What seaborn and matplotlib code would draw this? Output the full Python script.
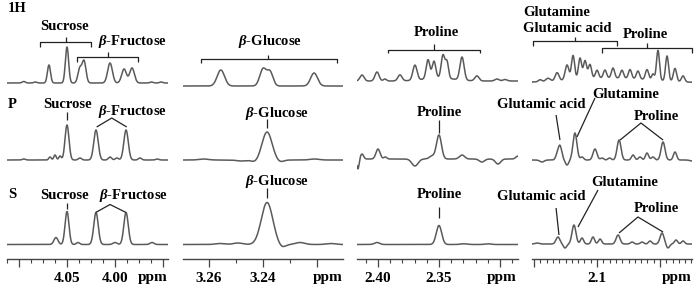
import numpy as np
import pandas as pd
import matplotlib
matplotlib.use("Agg")
import matplotlib.pyplot as plt
import seaborn as sns
from matplotlib.ticker import FixedLocator, FixedFormatter, MultipleLocator

# peak tables: (centre ppm, height px, fwhm ppm)
# panel 1 - sucrose / beta-fructose
suc_1h = [(4.095, 1.5, .004), (4.083, 1.0, .004), (4.0688, 18, .0038), (4.0500, 36, .0040),
          (4.0368, 14, .0045), (4.0323, 22, .0048), (4.0052, 20, .0058), (3.9906, 14, .0058),
          (3.9823, 15, .0058), (3.962, 1.0, .004), (3.952, 1.0, .004)]
suc_p = [(4.095, 1, .004), (4.0677, 3, .003), (4.0625, 5, .003), (4.0573, 4, .003),
         (4.0500, 35, .0048), (4.0365, 2, .004), (4.0198, 30, .0054), (4.0052, 3, .004),
         (3.998, 2, .004), (3.9885, 30, .0054), (3.974, 2, .004), (3.956, 1, .004)]
suc_s = [(4.0615, 7, .005), (4.0500, 33, .0048), (4.0385, 2, .004), (4.0198, 32, .0054),
         (4.0000, 2, .005), (3.9885, 32, .0054), (3.9615, 2, .005)]

# panel 2 - beta-glucose
glc_1h = [(3.2556, 16, .0032), (3.2400, 17, .0028), (3.2374, 14, .0026), (3.2211, 13, .0030)]
glc_p = [(3.262, 1, .004), (3.248, -1, .004), (3.243, -2, .003), (3.2385, 28, .0043),
         (3.2337, -2, .003), (3.221, 1, .004)]
glc_s = [(3.256, 1, .004), (3.2493, 1.5, .004), (3.2385, 42, .0050), (3.2330, -3, .003),
         (3.2263, 2, .004), (3.215, 1, .004)]

# panel 3 - proline
pro_1h = [(2.4131, 6, .004), (2.4008, 9, .004), (2.3943, 2, .003), (2.3820, 6, .004),
          (2.3697, 15, .004), (2.3590, 19, .0035), (2.3541, 17, .0035), (2.3467, 23, .0035),
          (2.3434, 16, .003), (2.3311, 23, .004), (2.3189, 5, .004), (2.3025, 2, .004),
          (2.2959, 1.5, .004), (2.3500, 3, .03)]
pro_p = [(2.4164, -10, .002), (2.4131, 5, .003), (2.4000, 10, .004), (2.3940, 2, .003),
         (2.3697, -7, .006), (2.3557, 3, .005), (2.3500, 24, .0048), (2.3311, 4, .005),
         (2.3148, -3, .005), (2.3016, -5, .005), (2.2852, 3, .004)]
pro_s = [(2.4008, 2, .005), (2.3500, 19, .0052), (2.3300, 0.7, .006), (2.3100, 0.7, .006)]

# panel 4 - glutamine / glutamic acid / proline
glu_1h = [(2.1452, 2, .003), (2.1389, 3, .004), (2.1317, 8, .0035), (2.1238, 15, .0035),
          (2.1190, 24, .003), (2.1135, 21, .003), (2.1095, 18, .003), (2.1056, 14, .003),
          (2.1000, 8, .003), (2.0937, 8, .003), (2.0873, 10, .003), (2.0802, 8, .003),
          (2.0738, 9, .003), (2.0675, 8, .003), (2.0603, 10, .003), (2.0556, 6, .0025),
          (2.0516, 30, .0028), (2.0444, 25, .0028), (2.0381, 13, .003), (2.0317, 6, .003),
          (2.0900, 5, .08)]
glu_p = [(2.1437, -2, .004), (2.1317, 4, .003), (2.1294, 14, .0034), (2.1238, -5, .003),
         (2.1175, 27, .0037), (2.1119, 3, .003), (2.1016, 11, .0037), (2.0960, 2, .003),
         (2.0900, 2, .003), (2.0825, 20, .0037), (2.0714, 5, .003), (2.0659, 3, .003),
         (2.0603, 7, .003), (2.0556, 3, .003), (2.0476, 18, .0037), (2.0381, 8, .003),
         (2.0246, -1, .004)]
glu_s = [(2.1476, 1, .004), (2.1310, 7, .0037), (2.1254, -4, .003), (2.1183, 19, .0037),
         (2.1119, 6, .003), (2.1032, 7, .003), (2.0976, 5, .003), (2.0833, 9, .0037),
         (2.0722, 2, .003), (2.0643, 2, .003), (2.0579, 3, .003), (2.0484, 11, .0037),
         (2.0437, -4, .003), (2.0373, 4, .003), (2.0317, 3, .003)]

spectra = [[suc_1h, suc_p, suc_s], [glc_1h, glc_p, glc_s],
           [pro_1h, pro_p, pro_s], [glu_1h, glu_p, glu_s]]

# axis ranges and ticks
xlims = [(4.1125, 3.9448), (3.2696, 3.2104), (2.4172, 2.2852), (2.1516, 2.0246)]
major_ticks = [[4.10, 4.05, 4.00, 3.95], [3.26, 3.24, 3.22], [2.40, 2.35, 2.30], [2.15, 2.10, 2.05]]
major_labels = [["", "4.05", "4.00", ""], ["3.26", "3.24", ""], ["2.40", "2.35", ""], ["", "2.1", ""]]
minor_step = [0.0125, 0.01, 0.01, 0.005]
ppm_pos = [3.9604, 3.2159, 2.2984, 2.0365]

# layout (pixels of the 697x288 picture)
W, H, AXIS_Y = 697, 288, 259
panel_px = [(7, 161), (183, 160), (357, 161), (532, 160)]
bases = [[176, 99, 14.5], [173, 99, 14.5], [178, 100, 14.5], [176, 99, 15]]

sns.set_style("white")
plt.rcParams['font.family'] = ['Liberation Serif', 'DejaVu Serif']
plt.rcParams['font.weight'] = 'bold'
plt.rcParams['mathtext.fontset'] = 'custom'
plt.rcParams['mathtext.it'] = 'Liberation Serif:italic:bold'
plt.rcParams['mathtext.rm'] = 'Liberation Serif:bold'

LINE = '#5a5a5a'
INK = '#222222'
FS = 10.5


def spectrum(x, peaks, base):
    y = np.full_like(x, base, dtype=float)
    for c, h, w in peaks:
        y += h * np.exp(-4 * np.log(2) * (x - c) ** 2 / w ** 2)
    return y


def label(ax, s, x, y, ha='center'):
    ax.text(x, y, s, ha=ha, va='center', fontsize=FS, fontweight='bold', color='black', clip_on=False)


def seg(ax, xs, ys):
    ax.plot(xs, ys, color=INK, lw=0.9, clip_on=False, solid_capstyle='butt')


def bracket(ax, x0, x1, xm, y, drop, rise):
    seg(ax, [x0, x0, x1, x1], [y - drop, y, y, y - drop])
    seg(ax, [xm, xm], [y, y + rise])


fig = plt.figure(figsize=(W / 100, H / 100), dpi=100)
axes = []
for i, (left, width) in enumerate(panel_px):
    ax = fig.add_axes([left / W, (H - AXIS_Y) / H, width / W, AXIS_Y / H])
    axes.append(ax)
    lo, hi = xlims[i]
    grid = np.linspace(lo, hi, 1500)
    for peaks, base in zip(spectra[i], bases[i]):
        sns.lineplot(x=grid, y=spectrum(grid, peaks, base), ax=ax, color=LINE,
                     linewidth=1.1, estimator=None, sort=False)
    ax.set_xlim(lo, hi)
    ax.set_ylim(0, AXIS_Y)
    for side in ['left', 'right', 'top']:
        ax.spines[side].set_visible(False)
    ax.spines['bottom'].set_color('#444444')
    ax.spines['bottom'].set_linewidth(1.0)
    ax.set_yticks([])
    ax.xaxis.set_major_locator(FixedLocator(major_ticks[i]))
    ax.xaxis.set_major_formatter(FixedFormatter(major_labels[i]))
    ax.xaxis.set_minor_locator(MultipleLocator(minor_step[i]))
    ax.tick_params(axis='x', which='major', direction='out', length=6, width=0.9,
                   color='#444444', labelsize=11, labelcolor='black', pad=3, bottom=True)
    ax.tick_params(axis='x', which='minor', direction='out', length=3, width=0.8,
                   color='#444444', bottom=True)
    for t in ax.get_xticklabels():
        t.set_fontweight('bold')
    ax.text(ppm_pos[i], -18, 'ppm', ha='center', va='center', fontsize=11,
            fontweight='bold', color='black', clip_on=False)
    ax.set_xlabel('')
    ax.set_ylabel('')

a1, a2, a3, a4 = axes

# panel 1
label(a1, '1H', 4.1115, 251, ha='left')
label(a1, 'Sucrose', 4.0521, 232)
bracket(a1, 4.0781, 4.0250, 4.0510, 217, 5, 5)
label(a1, r'$\it{\beta}$-Fructose', 3.9823, 217)
bracket(a1, 4.0396, 3.9760, 4.0073, 202, 5, 5)
label(a1, 'P', 4.1115, 154, ha='left')
label(a1, 'Sucrose', 4.0490, 154)
seg(a1, [4.05, 4.05], [139, 147])
label(a1, r'$\it{\beta}$-Fructose', 3.9823, 148)
seg(a1, [4.0191, 4.0034, 3.9878], [132, 141, 132])
label(a1, 'S', 4.1115, 64, ha='left')
label(a1, 'Sucrose', 4.0531, 63.5)
seg(a1, [4.05, 4.05], [50, 56])
label(a1, r'$\it{\beta}$-Fructose', 3.9813, 63)
seg(a1, [4.0201, 4.0052, 3.9885], [46.5, 54.5, 46.5])

# panel 2
label(a2, r'$\it{\beta}$-Glucose', 3.2374, 217)
bracket(a2, 3.2630, 3.2126, 3.2381, 200, 4, 4)
label(a2, r'$\it{\beta}$-Glucose', 3.2348, 146)
seg(a2, [3.2385, 3.2385], [131, 140])
label(a2, r'$\it{\beta}$-Glucose', 3.2348, 78)
seg(a2, [3.2385, 3.2385], [61, 71])

# panel 3
label(a3, 'Proline', 2.3525, 227)
bracket(a3, 2.3918, 2.3164, 2.3541, 209, 3, 6)
label(a3, 'Proline', 2.3500, 147)
seg(a3, [2.35, 2.35], [126, 139])
label(a3, 'Proline', 2.3500, 64)
seg(a3, [2.35, 2.35], [41, 52])

# panel 4
label(a4, 'Glutamine', 2.1587, 246, ha='left')
label(a4, 'Glutamic acid', 2.1587, 231, ha='left')
bracket(a4, 2.1508, 2.0841, 2.1175, 218, 5, 4)
label(a4, 'Proline', 2.0615, 224.5)
bracket(a4, 2.0960, 2.0246, 2.0603, 211, 5, 5)
label(a4, 'Glutamic acid', 2.1444, 154)
seg(a4, [2.1325, 2.1294], [144, 119])
label(a4, 'Glutamine', 2.0774, 165)
seg(a4, [2.1016, 2.1159], [161, 122])
label(a4, 'Proline', 2.0528, 142)
seg(a4, [2.0817, 2.0651, 2.0476], [119, 136, 119])
label(a4, 'Glutamic acid', 2.1444, 62)
seg(a4, [2.1325, 2.1302], [51, 24])
label(a4, 'Glutamine', 2.0778, 77)
seg(a4, [2.0992, 2.1151], [69, 32])
label(a4, 'Proline', 2.0532, 51)
seg(a4, [2.0825, 2.0675, 2.0476], [26, 42, 27])

fig.savefig('out.png', dpi=100)
